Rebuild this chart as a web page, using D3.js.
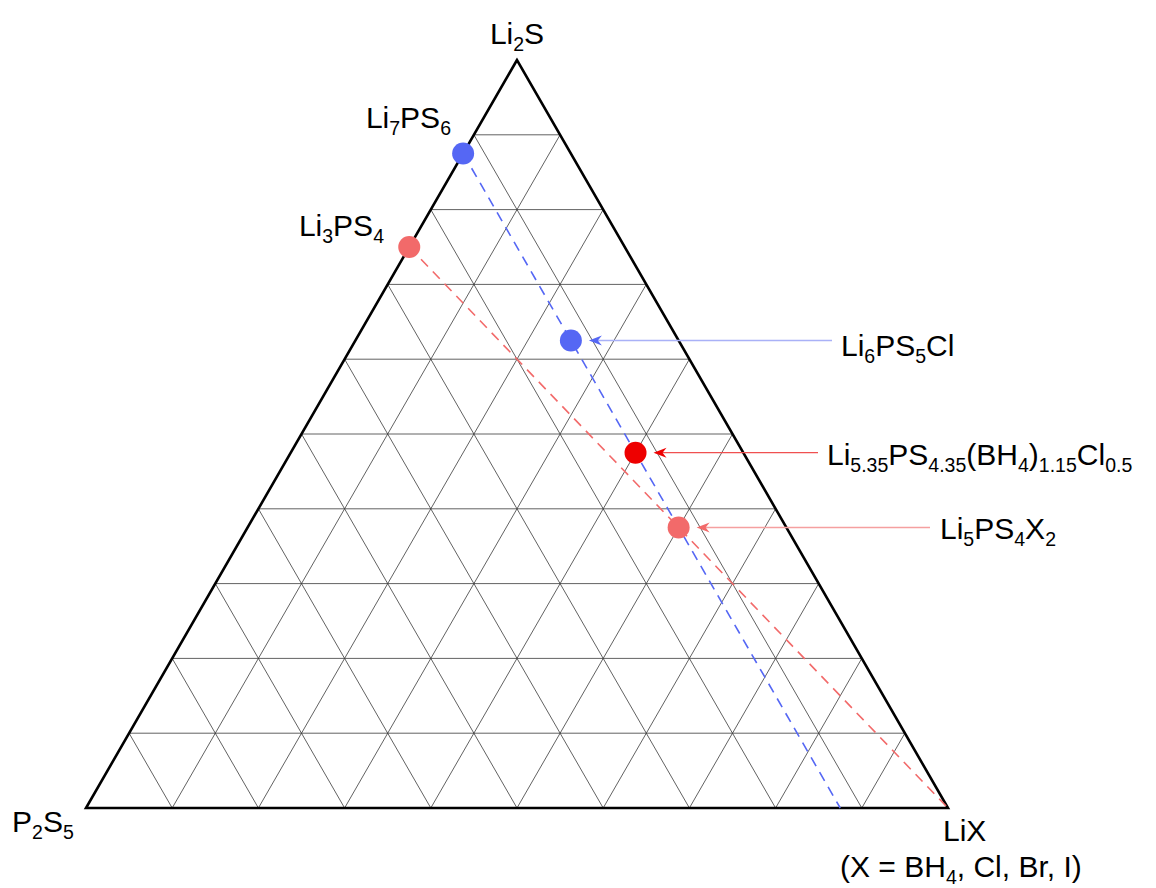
<!DOCTYPE html>
<html>
<head>
<meta charset="utf-8">
<script src="https://cdn.jsdelivr.net/npm/d3@7"></script>
<style>
  body { margin: 0; background: #fff; }
  text { font-family: "Liberation Sans", Arial, sans-serif; fill: #000; }
</style>
</head>
<body>
<div id="chart"></div>
<script>
// compositions as fractions of (Li2S, P2S5, LiX); "_" marks a subscript run in labels
var compounds = ["Li_7PS_6", "Li_3PS_4", "Li_6PS_5Cl", "Li_5.35PS_4.35(BH_4)_1.15Cl_0.5", "Li_5PS_4X_2"];
var li2s = [0.875, 0.75, 0.625, 0.475, 0.375];
var p2s5 = [0.125, 0.25, 0.125, 0.125, 0.125];
var lix  = [0, 0, 0.25, 0.4, 0.5];
var colors = ["#5567f4", "#f26a6a", "#5567f4", "#ee0000", "#f26a6a"];

// tie lines: start compound -> end composition on the bottom edge
var tieStart = [0, 1];
var tieEnd = [[0, 0.125, 0.875], [0, 0, 1]];
var tieColors = ["#5567f4", "#f26a6a"];

var divisions = 10;

var width = 1156, height = 888;
var svg = d3.select("#chart").append("svg")
    .attr("width", width)
    .attr("height", height);

// cartesian helpers: x = c + a/2, y = a*sqrt(3)/2
var h3 = Math.sqrt(3) / 2;
var xScale = d3.scaleLinear().domain([0, 1]).range([86, 948]);
var yScale = d3.scaleLinear().domain([0, h3]).range([808, 60]);

function proj(a, b, c) {
    var s = a + b + c;
    a /= s; c /= s;
    return [xScale(c + a / 2), yScale(a * h3)];
}

// grid lines (constant a, b, c)
var grid = [];
for (var k = 1; k < divisions; k++) {
    var t = k / divisions;
    grid.push([proj(t, 1 - t, 0), proj(t, 0, 1 - t)]);
    grid.push([proj(1 - t, t, 0), proj(0, t, 1 - t)]);
    grid.push([proj(1 - t, 0, t), proj(0, 1 - t, t)]);
}
svg.append("g").selectAll("line")
    .data(grid)
    .enter().append("line")
    .attr("x1", d => d[0][0]).attr("y1", d => d[0][1])
    .attr("x2", d => d[1][0]).attr("y2", d => d[1][1])
    .attr("stroke", "#3a3a3a")
    .attr("stroke-width", 0.8);

// outer triangle
var corners = [proj(1, 0, 0), proj(0, 1, 0), proj(0, 0, 1)];
svg.append("path")
    .attr("d", "M" + corners.join("L") + "Z")
    .attr("fill", "none")
    .attr("stroke", "#000")
    .attr("stroke-width", 2.6)
    .attr("stroke-linejoin", "miter");

// dashed tie lines
svg.append("g").selectAll("line")
    .data(tieStart)
    .enter().append("line")
    .each(function(d, i) {
        var p0 = proj(li2s[d], p2s5[d], lix[d]);
        var p1 = proj(tieEnd[i][0], tieEnd[i][1], tieEnd[i][2]);
        d3.select(this)
            .attr("x1", p0[0]).attr("y1", p0[1])
            .attr("x2", p1[0]).attr("y2", p1[1]);
    })
    .attr("stroke", (d, i) => tieColors[i])
    .attr("stroke-width", 1.6)
    .attr("stroke-dasharray", "10,7");

// composition points
svg.append("g").selectAll("circle")
    .data(compounds)
    .enter().append("circle")
    .attr("cx", (d, i) => proj(li2s[i], p2s5[i], lix[i])[0])
    .attr("cy", (d, i) => proj(li2s[i], p2s5[i], lix[i])[1])
    .attr("r", 11)
    .attr("fill", (d, i) => colors[i]);

var fs = 30;

// writes "Li_7PS_6" style strings as tspans with subscripts
function richText(sel, str, size) {
    var parts = str.split(/(_[0-9.]+)/).filter(s => s.length);
    var down = false;
    parts.forEach(function(p) {
        if (p[0] === "_") {
            sel.append("tspan")
                .attr("font-size", size * 0.65)
                .attr("dy", down ? 0 : 7)
                .text(p.slice(1));
            down = true;
        } else {
            sel.append("tspan")
                .attr("dy", down ? -7 : 0)
                .text(p);
            down = false;
        }
    });
}

// corner labels
var cornerLabels = [
    { s: "Li_2S", x: 517, y: 44, anchor: "middle" },
    { s: "P_2S_5", x: 12, y: 832, anchor: "start" },
    { s: "LiX", x: 943, y: 841, anchor: "start" },
    { s: "(X = BH_4, Cl, Br, I)", x: 840, y: 877, anchor: "start" }
];
cornerLabels.forEach(function(l) {
    var t = svg.append("text")
        .attr("x", l.x).attr("y", l.y)
        .attr("font-size", fs)
        .attr("text-anchor", l.anchor);
    richText(t, l.s, fs);
});

// labels next to edge points
var edgeLabelPos = [[451, 128], [384, 236]];
edgeLabelPos.forEach(function(p, i) {
    var t = svg.append("text")
        .attr("x", p[0]).attr("y", p[1])
        .attr("font-size", fs)
        .attr("text-anchor", "end");
    richText(t, compounds[i], fs);
});

// callout labels with arrows
var callouts = [
    { idx: 2, tx: 841, ty: 356, from: 832, line: "#a9b1f7" },
    { idx: 3, tx: 827, ty: 465, from: 818, line: "#f05050" },
    { idx: 4, tx: 940, ty: 539, from: 930, line: "#f5a0a0" }
];
callouts.forEach(function(c) {
    var i = c.idx;
    var p = proj(li2s[i], p2s5[i], lix[i]);
    var tip = p[0] + 18;
    svg.append("line")
        .attr("x1", c.from).attr("y1", p[1])
        .attr("x2", tip + 8).attr("y2", p[1])
        .attr("stroke", c.line)
        .attr("stroke-width", 1.3);
    svg.append("path")
        .attr("d", "M" + tip + "," + p[1] +
            "L" + (tip + 13) + "," + (p[1] - 5) +
            "L" + (tip + 9) + "," + p[1] +
            "L" + (tip + 13) + "," + (p[1] + 5) + "Z")
        .attr("fill", colors[i]);
    var t = svg.append("text")
        .attr("x", c.tx).attr("y", c.ty)
        .attr("font-size", fs);
    richText(t, compounds[i], fs);
});
</script>
</body>
</html>
